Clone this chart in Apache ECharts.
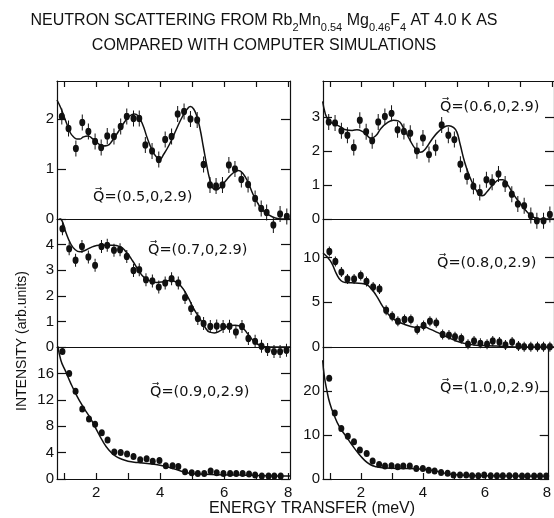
<!DOCTYPE html>
<html lang="en">
<head>
	<meta charset="UTF-8">
	<title>Neutron scattering</title>
	<script src="https://cdn.jsdelivr.net/npm/echarts@6.0.0/dist/echarts.min.js"></script>
</head>
<body style="margin:0">
	<div id="app" style="width:554px;height:518px"></div>

	<script>
		// energy transfer (meV), intensity (arb. units) -- measured points and simulation curves
		var pts05 = [[0.93,2.05],[1.14,1.81],[1.37,1.41],[1.57,1.93],[1.76,1.75],[1.97,1.55],[2.16,1.43],[2.35,1.66],[2.56,1.65],[2.77,1.85],[2.96,2.05],[3.17,2.01],[3.35,2.01],[3.54,1.48],[3.75,1.36],[3.96,1.19],[4.16,1.59],[4.36,1.65],[4.55,2.1],[4.75,2.15],[4.95,2.0],[5.16,1.98],[5.36,1.09],[5.56,0.68],[5.75,0.66],[5.95,0.68],[6.15,1.08],[6.34,1.0],[6.54,0.79],[6.75,0.69],[6.97,0.41],[7.16,0.21],[7.33,0.13],[7.54,-0.12],[7.75,0.1],[7.96,0.05]];
		var fit05 = [[0.78,2.38],[0.9,2.22],[1.0,2.05],[1.1,1.88],[1.2,1.72],[1.3,1.64],[1.4,1.6],[1.5,1.6],[1.6,1.64],[1.75,1.66],[1.9,1.6],[2.05,1.52],[2.2,1.46],[2.35,1.47],[2.5,1.56],[2.7,1.75],[2.9,1.95],[3.05,2.06],[3.2,2.1],[3.3,2.07],[3.45,1.9],[3.6,1.62],[3.75,1.38],[3.9,1.23],[4.0,1.2],[4.1,1.28],[4.3,1.5],[4.5,1.78],[4.7,2.05],[4.85,2.2],[4.95,2.25],[5.05,2.2],[5.15,2.05],[5.25,1.8],[5.35,1.45],[5.45,1.1],[5.55,0.8],[5.65,0.62],[5.75,0.58],[5.9,0.65],[6.1,0.8],[6.3,0.93],[6.45,0.97],[6.6,0.9],[6.75,0.73],[6.9,0.5],[7.05,0.32],[7.2,0.18],[7.4,0.08],[7.6,0.02],[7.8,0],[8.06,0]];

		var pts06 = [[0.96,2.85],[1.16,2.82],[1.36,2.59],[1.55,2.46],[1.75,2.1],[1.94,2.9],[2.14,2.56],[2.33,2.3],[2.52,2.85],[2.73,3.01],[2.94,3.1],[3.13,2.62],[3.33,2.57],[3.53,2.52],[3.74,2.0],[3.93,2.38],[4.12,1.89],[4.33,2.09],[4.52,2.76],[4.73,2.46],[4.92,2.33],[5.11,1.61],[5.32,1.25],[5.52,0.96],[5.72,0.78],[5.93,1.15],[6.11,1.08],[6.31,1.32],[6.52,1.03],[6.73,0.73],[6.92,0.44],[7.12,0.39],[7.33,0.1],[7.52,-0.05],[7.73,-0.05],[7.93,0.13]];
		var fit06 = [[0.77,3.45],[0.85,3.1],[0.95,2.9],[1.1,2.8],[1.3,2.72],[1.5,2.62],[1.7,2.6],[1.85,2.62],[2.0,2.58],[2.15,2.47],[2.3,2.37],[2.45,2.45],[2.6,2.65],[2.8,2.82],[3.0,2.9],[3.15,2.88],[3.3,2.7],[3.5,2.35],[3.7,2.05],[3.85,1.96],[4.0,2.05],[4.2,2.32],[4.4,2.55],[4.6,2.7],[4.75,2.74],[4.9,2.68],[5.0,2.55],[5.1,2.2],[5.25,1.65],[5.4,1.25],[5.55,0.95],[5.7,0.72],[5.8,0.68],[5.95,0.8],[6.15,1.02],[6.35,1.15],[6.45,1.15],[6.6,1.0],[6.8,0.7],[7.0,0.45],[7.2,0.22],[7.4,0.06],[7.6,0],[8.06,0]];

		var pts07 = [[0.95,4.62],[1.16,3.84],[1.36,3.39],[1.56,3.93],[1.76,3.52],[1.97,3.19],[2.17,3.93],[2.35,3.97],[2.56,3.78],[2.75,3.8],[2.96,3.54],[3.17,2.99],[3.35,3.02],[3.56,2.63],[3.76,2.58],[3.96,2.34],[4.16,2.5],[4.36,2.67],[4.57,2.5],[4.78,1.93],[4.97,1.5],[5.18,1.11],[5.36,0.92],[5.57,0.8],[5.77,0.82],[5.97,0.8],[6.17,0.81],[6.37,0.59],[6.56,0.8],[6.76,0.33],[6.97,0.22],[7.17,0.03],[7.36,-0.1],[7.56,-0.18],[7.75,-0.18],[7.95,-0.13]];
		var fit07 = [[0.78,5.1],[0.93,4.95],[1.05,4.5],[1.2,4.05],[1.35,3.8],[1.5,3.72],[1.7,3.8],[1.9,3.92],[2.1,3.97],[2.5,3.97],[2.75,3.92],[2.95,3.7],[3.15,3.35],[3.35,2.95],[3.5,2.72],[3.7,2.57],[3.9,2.52],[4.1,2.55],[4.3,2.6],[4.45,2.57],[4.65,2.38],[4.85,2.0],[5.05,1.5],[5.25,1.1],[5.4,0.78],[5.55,0.58],[5.7,0.55],[5.9,0.65],[6.1,0.8],[6.35,0.85],[6.55,0.78],[6.75,0.5],[6.95,0.2],[7.15,0.05],[7.4,0],[8.06,0]];

		var pts08 = [[0.98,10.67],[1.17,9.56],[1.36,8.37],[1.55,7.59],[1.76,7.59],[1.97,8.0],[2.15,7.33],[2.36,6.7],[2.56,6.48],[2.77,4.11],[2.96,3.44],[3.14,2.89],[3.35,3.07],[3.55,3.07],[3.75,1.96],[3.95,2.41],[4.15,2.89],[4.35,2.7],[4.55,1.41],[4.75,1.33],[4.94,1.15],[5.14,0.96],[5.35,0.3],[5.54,0.67],[5.74,0.41],[5.95,0.3],[6.13,0.67],[6.34,0.56],[6.53,0.22],[6.74,0.56],[6.94,0.11],[7.12,0.04],[7.33,0.04],[7.54,0.04],[7.73,0.04],[7.93,0.04]];
		var fit08 = [[0.78,10.5],[0.9,10.1],[1.05,9.4],[1.2,8.2],[1.35,7.4],[1.5,7.2],[1.8,7.15],[2.1,7.05],[2.25,6.7],[2.45,5.8],[2.65,4.6],[2.85,3.6],[3.05,3.0],[3.3,2.6],[3.55,2.3],[3.75,2.2],[3.95,2.25],[4.15,2.0],[4.4,1.6],[4.7,1.1],[5.0,0.65],[5.3,0.35],[5.6,0.2],[6.0,0.15],[6.5,0.05],[7.0,0],[8.06,0]];

		var pts09 = [[0.95,19.3],[1.16,16.0],[1.36,13.3],[1.57,10.6],[1.78,9.1],[1.97,8.3],[2.18,7.0],[2.36,5.9],[2.57,4.1],[2.77,4.0],[2.97,3.8],[3.17,3.4],[3.38,2.9],[3.58,3.05],[3.77,2.7],[3.98,2.8],[4.18,2.0],[4.39,2.0],[4.57,1.9],[4.78,1.1],[4.99,0.95],[5.18,0.85],[5.38,0.85],[5.58,1.2],[5.77,0.95],[5.98,0.85],[6.19,0.85],[6.38,0.85],[6.58,0.85],[6.78,0.75],[6.97,0.6],[7.18,0.45],[7.39,0.45],[7.57,0.45],[7.77,0.45]];
		var fit09 = [[0.8,20.5],[0.9,18],[1.05,16.3],[1.2,14.6],[1.4,12.6],[1.6,10.9],[1.8,9.4],[2.0,7.6],[2.2,5.8],[2.4,4.4],[2.6,3.5],[2.8,3.0],[3.0,2.7],[3.3,2.5],[3.6,2.35],[4.0,2.1],[4.4,1.6],[4.8,1.0],[5.2,0.75],[5.8,0.65],[6.5,0.6],[7.2,0.5],[8.06,0.45]];

		var pts10 = [[0.98,22.9],[1.16,15.0],[1.37,11.5],[1.58,9.7],[1.78,8.45],[1.97,6.6],[2.19,5.8],[2.38,4.1],[2.59,3.3],[2.78,2.94],[2.99,3.0],[3.19,2.8],[3.37,2.94],[3.58,2.94],[3.79,2.4],[4.0,2.4],[4.19,2.0],[4.38,1.8],[4.59,1.5],[4.8,1.3],[4.99,0.9],[5.2,0.9],[5.4,0.9],[5.59,0.75],[5.79,0.75],[5.98,0.9],[6.19,0.75],[6.39,0.75],[6.58,0.75],[6.79,0.75],[6.99,0.75],[7.2,0.68],[7.38,0.68],[7.59,0.68],[7.78,0.68],[7.98,0.68]];
		var fit10 = [[0.77,27],[0.82,23.5],[0.9,20.3],[1.0,17.2],[1.15,14.3],[1.3,12.0],[1.5,9.9],[1.7,7.9],[1.9,6.0],[2.1,4.4],[2.3,3.3],[2.5,2.8],[2.8,2.5],[3.2,2.4],[3.6,2.4],[4.0,2.2],[4.4,1.8],[4.8,1.2],[5.2,0.9],[5.8,0.75],[8.06,0.65]];

		// tick values
		var xTicks = [1,2,3,4,5,6,7,8];
		var xLabels = [2,4,6,8];
		var yTicks05 = [0,1,2];
		var yTicks06 = [0,1,2,3];
		var yTicks07 = [0,1,2,3,4];
		var yTicks08 = [0,5,10];
		var yTicks09 = [0,4,8,12,16];
		var yTicks10 = [0,10,20];

		// vertical error bar + dot, drawn as one symbol (both clockwise so nothing cancels)
		function barDot(h){
			var c = h/2;
			return 'path://M2.5,0H3.5V'+h+'H2.5Z M3,'+(c-3.7)+'A3,3.7,0,1,1,3,'+(c+3.7)+'A3,3.7,0,1,1,3,'+(c-3.7)+'Z';
		}
		var dot = 'path://M3,0A3,3.5,0,1,1,3,7A3,3.5,0,1,1,3,0Z';

		var cols = [57, 323];
		var rows = [[81,138],[219,128],[347,132]];

		var panels = [
			{pts: pts05, fit: fit05, c: 0, r: 0, max: 2.76, ticks: yTicks05, sym: barDot(16), size: [6,16], q: '(0.5,0,2.9)', qx: 93, qy: 197},
			{pts: pts06, fit: fit06, c: 1, r: 0, max: 4.05, ticks: yTicks06, sym: barDot(16), size: [6,16], q: '(0.6,0,2.9)', qx: 440, qy: 107},
			{pts: pts07, fit: fit07, c: 0, r: 1, max: 5.0, ticks: yTicks07, sym: barDot(13), size: [6,13], q: '(0.7,0,2.9)', qx: 148, qy: 250},
			{pts: pts08, fit: fit08, c: 1, r: 1, max: 14.3, ticks: yTicks08, sym: barDot(10), size: [6,10], q: '(0.8,0,2.9)', qx: 437, qy: 263},
			{pts: pts09, fit: fit09, c: 0, r: 2, max: 20, ticks: yTicks09, sym: dot, size: [6,7], q: '(0.9,0,2.9)', qx: 150, qy: 392},
			{pts: pts10, fit: fit10, c: 1, r: 2, max: 30, ticks: yTicks10, sym: dot, size: [6,7], q: '(1.0,0,2.9)', qx: 440, qy: 388}
		];

		var ink = '#111';
		var lbl = {color: ink, fontFamily: 'Liberation Sans', fontSize: 15};
		var grid = [], xAxis = [], yAxis = [], series = [], graphic = [];

		panels.forEach(function(p, i){
			grid.push({left: cols[p.c], top: rows[p.r][0], width: 233, height: rows[p.r][1]});
			var bottomRow = p.r === 2;
			xAxis.push({
				gridIndex: i, type: 'value', min: 0.78, max: 8.06,
				axisLine: {show: true, onZero: false, lineStyle: {color: ink, width: 1.2}},
				axisTick: {show: bottomRow, inside: true, length: 6, customValues: xTicks, lineStyle: {color: ink, width: 1.2}},
				axisLabel: Object.assign({show: bottomRow, margin: 6, customValues: xLabels}, lbl),
				splitLine: {show: false}
			});
			xAxis.push({
				gridIndex: i, type: 'value', position: 'top', min: 0.78, max: 8.06, show: p.r === 0,
				axisLine: {show: true, onZero: false, lineStyle: {color: ink, width: 1.2}},
				axisTick: {show: true, inside: true, length: 6, customValues: xTicks, lineStyle: {color: ink, width: 1.2}},
				axisLabel: {show: false},
				splitLine: {show: false}
			});
			yAxis.push({
				gridIndex: i, type: 'value', min: 0, max: p.max,
				axisLine: {show: true, onZero: false, lineStyle: {color: ink, width: 1.2}},
				axisTick: {show: true, inside: true, length: 9, customValues: p.ticks, lineStyle: {color: ink, width: 1.2}},
				axisLabel: Object.assign({margin: 3, customValues: p.ticks}, lbl),
				splitLine: {show: false}
			});
			yAxis.push({
				gridIndex: i, type: 'value', position: 'right', min: 0, max: p.max,
				axisLine: {show: true, onZero: false, lineStyle: {color: ink, width: 1.2}},
				axisTick: {show: true, inside: true, length: 9, customValues: p.ticks, lineStyle: {color: ink, width: 1.2}},
				axisLabel: {show: false},
				splitLine: {show: false}
			});
			series.push({
				type: 'line', xAxisIndex: 2*i, yAxisIndex: 2*i, data: p.fit,
				smooth: true, showSymbol: false, lineStyle: {color: ink, width: 1.5}
			});
			series.push({
				type: 'scatter', xAxisIndex: 2*i, yAxisIndex: 2*i, data: p.pts, clip: false,
				symbol: p.sym, symbolSize: p.size, itemStyle: {color: ink, opacity: 1}
			});
			graphic.push({
				type: 'text', x: p.qx, y: p.qy,
				style: {text: 'Q\u20D7=' + p.q, font: '14.5px "DejaVu Sans"', fill: ink, align: 'left', verticalAlign: 'middle'}
			});
		});

		graphic.push({
			type: 'text', x: 264, y: 8,
			style: {
				text: '{t|NEUTRON SCATTERING FROM Rb}{s|2}{t|Mn}{s|0.54}{t| Mg}{s|0.46}{t|F}{s|4}{t| AT 4.0 K AS}\n{t|COMPARED WITH COMPUTER SIMULATIONS}',
				align: 'center', verticalAlign: 'top', fill: ink,
				rich: {
					t: {fontSize: 16, fontFamily: 'Liberation Sans', lineHeight: 25},
					s: {fontSize: 11, fontFamily: 'Liberation Sans', lineHeight: 14, verticalAlign: 'bottom'}
				}
			}
		});
		graphic.push({
			type: 'text', x: 22, y: 341, rotation: Math.PI/2,
			style: {text: 'INTENSITY (arb.units)', font: '14px "Liberation Sans"', fill: ink, align: 'center', verticalAlign: 'middle'}
		});
		graphic.push({
			type: 'text', x: 312, y: 509,
			style: {text: 'ENERGY TRANSFER (meV)', font: '16px "Liberation Sans"', fill: ink, align: 'center', verticalAlign: 'middle'}
		});

		var myChart = echarts.init(document.getElementById('app'));
		myChart.setOption({
			animation: false,
			backgroundColor: '#fff',
			grid: grid,
			xAxis: xAxis,
			yAxis: yAxis,
			series: series,
			graphic: graphic
		});
	</script>
</body>
</html>
